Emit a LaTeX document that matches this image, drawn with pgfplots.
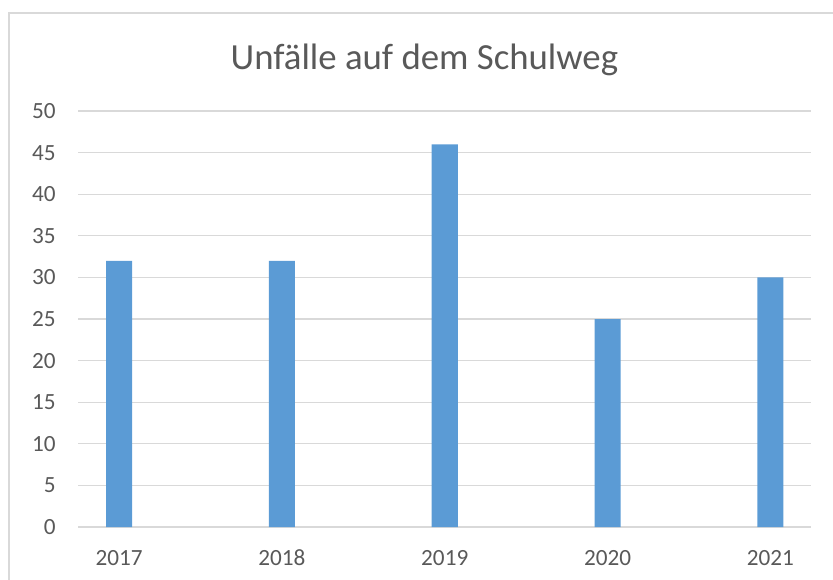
\documentclass[border=0pt]{standalone}
\usepackage{pgfplots}
\pgfplotsset{compat=1.18}
\usepackage{fontspec}
\setmainfont{Carlito}
\definecolor{barblue}{HTML}{5B9BD5}
\definecolor{gridgray}{HTML}{D9D9D9}
\definecolor{txtgray}{HTML}{595959}

\begin{document}
\begin{tikzpicture}
% page size of the original chart (1px = 0.5pt)
\useasboundingbox (-39pt,-26pt) rectangle (377.5pt,263.5pt);
\draw[gridgray, line width=0.6pt] (-34.5pt,-30pt) -- (-34.5pt,257pt) -- (390pt,257pt);
\node[anchor=base, text=txtgray, font=\fontsize{18.4}{22}\selectfont, inner sep=0pt]
    at (173.2pt,229pt) {Unfälle auf dem Schulweg};
\begin{axis}[
    at={(0,0)}, anchor=south west,
    scale only axis,
    width=366.5pt, height=208pt,
    xmin=-0.252, xmax=4.249,
    ymin=0, ymax=50,
    xtick={0,1,2,3,4},
    xticklabels={2017,2018,2019,2020,2021},
    ytick={0,5,...,50},
    ymajorgrids,
    grid style={gridgray, line width=0.6pt},
    axis line style={draw=none},
    major tick length=0pt,
    tick style={draw=none},
    ticklabel style={font=\fontsize{11.6}{14}\selectfont, text=txtgray, inner sep=0pt},
    yticklabel style={anchor=base east, xshift=-11pt, yshift=-3.7pt},
    xticklabel style={anchor=base, yshift=-19pt},
    /pgf/number format/assume math mode=true,
]
\addplot[ybar, bar width=0.16, fill=barblue, draw=none] coordinates {
    (0,32) (1,32) (2,46) (3,25) (4,30)
};
\end{axis}
\end{tikzpicture}
\end{document}
